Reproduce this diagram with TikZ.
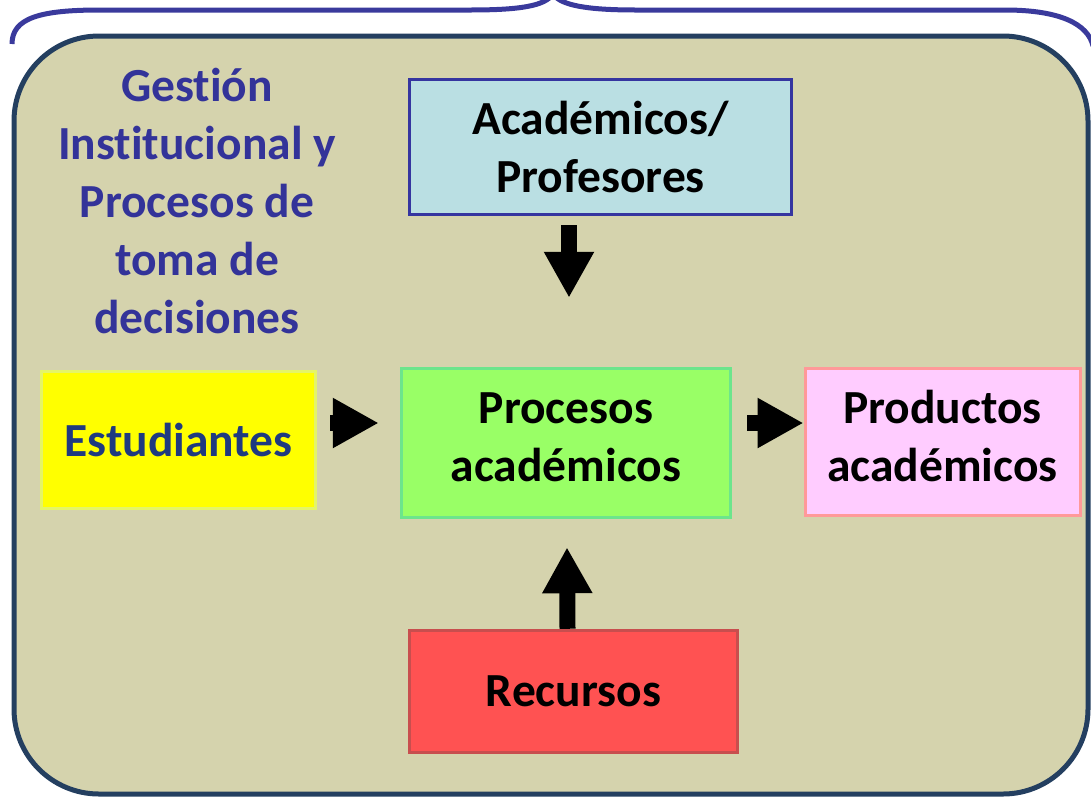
\documentclass[tikz,border=0pt]{standalone}
\usepackage{fontspec}
\setmainfont{Carlito}[Ligatures=NoCommon]
\usepackage{xcolor}
\usepackage{tikz}
\usetikzlibrary{arrows.meta, calc}

\definecolor{panelfill}{HTML}{D5D3AD}
\definecolor{paneldraw}{HTML}{243F60}
\definecolor{bracecol}{HTML}{3A3A9C}
\definecolor{titlecol}{HTML}{333399}
\definecolor{proffill}{HTML}{BADFE3}
\definecolor{profdraw}{HTML}{3535A0}
\definecolor{estfill}{HTML}{FFFF00}
\definecolor{estdraw}{HTML}{E4F468}
\definecolor{esttext}{HTML}{1F3A80}
\definecolor{procfill}{HTML}{99FF66}
\definecolor{procdraw}{HTML}{6CE58C}
\definecolor{prodfill}{HTML}{FFCCFF}
\definecolor{proddraw}{HTML}{FF9999}
\definecolor{recfill}{HTML}{FF5252}
\definecolor{recdraw}{HTML}{C84E4E}

\begin{document}
\begin{tikzpicture}[
  x=1pt, y=-1pt,
  txt/.style={font=\fontsize{47.5}{58}\selectfont\bfseries, align=center},
  box/.style={rectangle, draw, line width=3.5pt, inner sep=0pt, txt},
  prof/.style={box, fill=proffill, draw=profdraw, minimum width=382pt, minimum height=135pt},
  estud/.style={box, fill=estfill, draw=estdraw, text=esttext, minimum width=274pt, minimum height=137pt},
  proc/.style={box, fill=procfill, draw=procdraw, minimum width=329pt, minimum height=149pt},
  prod/.style={box, fill=prodfill, draw=proddraw, line width=3pt, minimum width=275pt, minimum height=147pt},
  rec/.style={box, fill=recfill, draw=recdraw, minimum width=328pt, minimum height=122pt},
  blk/.style={-{Triangle[length=46pt, width=47pt]}, line width=16pt, black},
  ]
  \clip (0,0) rectangle (1091,796);

  %% Brace over the panel
  \draw[bracecol, line width=5pt]
    (12,44) .. controls (12,18) and (40,10) .. (100,10) -- (470,10)
    .. controls (520,10) and (545,6) .. (553,-6)
    .. controls (561,6) and (590,10) .. (636,10) -- (1005,10)
    .. controls (1060,10) and (1088,24) .. (1093,46);

  %% Panel
  \draw[paneldraw, fill=panelfill, line width=5pt, rounded corners=85pt]
    (14,36) rectangle (1088,794);

  %% Title and boxes
  \node[txt, text=titlecol] (title) at (197,201)
        {Gestión\\Institucional y\\Procesos de\\toma de\\decisiones};
  \node[prof]  (acad)  at (600.5,147) {Académicos/\\Profesores};
  \node[estud] (estud) at (178.5,440) {Estudiantes};
  \node[proc]  (proc)  at (566,443)   {Procesos\\académicos\\[-46pt]};
  \node[prod]  (prod)  at (942.5,442) {Productos\\académicos\\[-46pt]};
  \node[rec]   (rec)   at (573.5,691.5) {Recursos};

  %% Block arrows
  \draw[blk] ($(proc.north |- acad.south)+(3,9)$) -- ($(proc.north)+(3,-69)$);
  \draw[blk] ($(estud.east)+(13,-17)$)            -- ($(proc.west)+(-21,-20)$);
  \draw[blk] ($(proc.east)+(15,-20)$)             -- ($(prod.west)+(0,-19)$);
  \draw[blk] ($(rec.north)+(-6,0)$)               -- ($(proc.south)+(1,28)$);
\end{tikzpicture}
\end{document}
